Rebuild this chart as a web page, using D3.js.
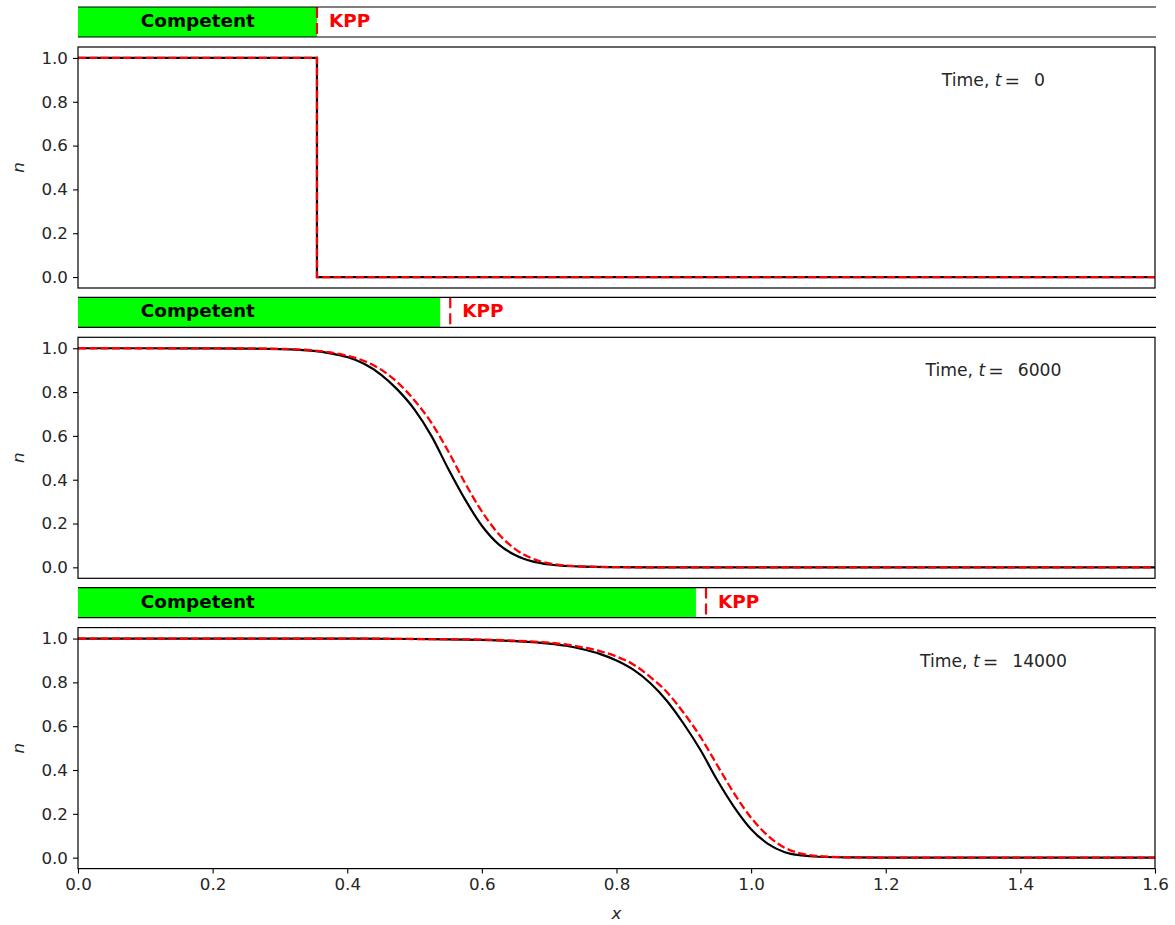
<!DOCTYPE html>
<html><head><meta charset="utf-8">
<script src="https://cdn.jsdelivr.net/npm/d3@7/dist/d3.min.js"></script>
<style>
html,body{margin:0;padding:0;background:#fff;}
svg text{font-family:"DejaVu Sans",sans-serif;}
</style></head>
<body><svg id="chart" width="1175" height="925"></svg>
<script>
// ---------- data ----------
const times = [0, 6000, 14000];
const competentFront = [0.355, 0.538, 0.918];
const kppFront = [0.355, 0.553, 0.933];

const xTicks = [0.0, 0.2, 0.4, 0.6, 0.8, 1.0, 1.2, 1.4, 1.6];
const yTicks = [0.0, 0.2, 0.4, 0.6, 0.8, 1.0];

// panel 1 (t = 0): step profile
const x0 = [0, 0.355, 0.355, 1.6];
const comp0 = [1, 1, 0, 0];
const kpp0 = [1, 1, 0, 0];

// panel 2 (t = 6000)
const x1 = [0, 0.1, 0.2, 0.3, 0.35, 0.375, 0.4, 0.425, 0.45, 0.475, 0.5, 0.525, 0.55, 0.575, 0.6, 0.625, 0.65, 0.675, 0.7, 0.75, 0.8, 0.85, 1.0, 1.2, 1.4, 1.6];
const comp1 = [1, 1, 0.9995, 0.996, 0.988, 0.977, 0.96, 0.929, 0.88, 0.81, 0.72, 0.60, 0.45, 0.31, 0.19, 0.105, 0.055, 0.027, 0.013, 0.003, 0.001, 0, 0, 0, 0, 0];
const kpp1 = [1, 1, 0.9995, 0.997, 0.99, 0.981, 0.966, 0.942, 0.903, 0.843, 0.762, 0.66, 0.53, 0.385, 0.255, 0.152, 0.082, 0.04, 0.018, 0.004, 0.001, 0, 0, 0, 0, 0];

// panel 3 (t = 14000)
const x2 = [0, 0.2, 0.4, 0.5, 0.6, 0.65, 0.7, 0.725, 0.75, 0.775, 0.8, 0.825, 0.85, 0.875, 0.9, 0.925, 0.95, 0.975, 1.0, 1.025, 1.05, 1.075, 1.1, 1.15, 1.2, 1.4, 1.6];
const comp2 = [1, 1, 1, 0.998, 0.994, 0.988, 0.977, 0.967, 0.951, 0.93, 0.9, 0.858, 0.797, 0.715, 0.61, 0.49, 0.352, 0.23, 0.13, 0.063, 0.025, 0.01, 0.004, 0.001, 0, 0, 0];
const kpp2 = [1, 1, 1, 0.998, 0.995, 0.99, 0.981, 0.973, 0.96, 0.943, 0.918, 0.882, 0.825, 0.755, 0.66, 0.55, 0.42, 0.292, 0.182, 0.1, 0.045, 0.018, 0.007, 0.001, 0, 0, 0];

const profiles = [
  {x: x0, comp: comp0, kpp: kpp0, step: true},
  {x: x1, comp: comp1, kpp: kpp1, step: false},
  {x: x2, comp: comp2, kpp: kpp2, step: false}
];

// ---------- layout ----------
const svg = d3.select("#chart");
const L = 78, R = 1155;
const groupStep = 290.3;
const barTop0 = 7, barH = 30, panelTop0 = 47, panelH = 241;
const fontTick = 16.7;

const x = d3.scaleLinear().domain([0, 1.6]).range([L, R]);

profiles.forEach((p, i) => {
  const off = i * groupStep;
  const bTop = barTop0 + off;
  const pTop = panelTop0 + off;
  const y = d3.scaleLinear().domain([-0.05, 1.05]).range([pTop + panelH, pTop]);

  // ---- front bar ----
  const bar = svg.append("g");
  bar.append("rect")
    .attr("x", x(0)).attr("y", bTop)
    .attr("width", x(competentFront[i]) - x(0)).attr("height", barH)
    .attr("fill", "#00ff00");
  bar.append("line")
    .attr("x1", x(kppFront[i])).attr("x2", x(kppFront[i]))
    .attr("y1", bTop).attr("y2", bTop + barH)
    .attr("stroke", "#ff0000").attr("stroke-width", 2.2)
    .attr("stroke-dasharray", "11,5");
  [bTop, bTop + barH].forEach(yy => {
    bar.append("line").attr("x1", L).attr("x2", R + 1).attr("y1", yy).attr("y2", yy)
      .attr("stroke", "#000").attr("stroke-width", 1.2);
  });
  bar.append("text")
    .attr("x", x(0.178)).attr("y", bTop + barH / 2 - 1.5)
    .attr("text-anchor", "middle").attr("dominant-baseline", "central")
    .attr("font-weight", "bold").attr("font-size", 18.4).attr("fill", "#000")
    .text("Competent");
  bar.append("text")
    .attr("x", x(kppFront[i]) + 12).attr("y", bTop + barH / 2 - 1.5)
    .attr("dominant-baseline", "central")
    .attr("font-weight", "bold").attr("font-size", 18.4).attr("fill", "#ff0000")
    .text("KPP");

  // ---- profile panel ----
  const g = svg.append("g");
  const clipId = "clip" + i;
  svg.append("clipPath").attr("id", clipId).append("rect")
    .attr("x", L).attr("y", pTop).attr("width", R - L).attr("height", panelH);

  const line = d3.line()
    .x(d => x(d[0])).y(d => y(d[1]))
    .curve(p.step ? d3.curveLinear : d3.curveMonotoneX);

  const compData = p.x.map((xv, k) => [xv, p.comp[k]]);
  const kppData = p.x.map((xv, k) => [xv, p.kpp[k]]);

  const lines = g.append("g").attr("clip-path", `url(#${clipId})`);
  lines.append("path").attr("d", line(compData))
    .attr("fill", "none").attr("stroke", "#000").attr("stroke-width", 2.2);
  lines.append("path").attr("d", line(kppData))
    .attr("fill", "none").attr("stroke", "#ff0000").attr("stroke-width", 2.3)
    .attr("stroke-dasharray", "8,3.3");

  // y axis
  const yAxis = d3.axisLeft(y).tickValues(yTicks).tickFormat(d3.format(".1f"))
    .tickSize(5).tickPadding(5);
  const ya = g.append("g").attr("transform", `translate(${L},0)`).call(yAxis);
  ya.select(".domain").remove();
  ya.selectAll("line").attr("stroke", "#000").attr("stroke-width", 1.1);
  ya.selectAll("text").attr("font-size", fontTick).attr("fill", "#262626")
    .attr("font-family", "DejaVu Sans");

  // x axis ticks (labels only on bottom panel)
  const xAxis = d3.axisBottom(x).tickValues(xTicks).tickFormat(d3.format(".1f"))
    .tickSize(5).tickPadding(5);
  const xa = g.append("g").attr("transform", `translate(0,${pTop + panelH})`).call(xAxis);
  xa.select(".domain").remove();
  xa.selectAll("line").attr("stroke", "#000").attr("stroke-width", 1.1);
  xa.selectAll("text").attr("font-size", fontTick).attr("fill", "#262626")
    .attr("font-family", "DejaVu Sans");
  if (i < 2) { xa.selectAll("text").remove(); xa.selectAll("line").remove(); }

  // frame
  g.append("rect").attr("x", L).attr("y", pTop).attr("width", R - L).attr("height", panelH)
    .attr("fill", "none").attr("stroke", "#000").attr("stroke-width", 1.2);

  // y label
  g.append("text")
    .attr("transform", `translate(18,${pTop + panelH / 2}) rotate(-90)`)
    .attr("text-anchor", "middle").attr("dominant-baseline", "central")
    .attr("font-size", fontTick).attr("font-style", "italic").attr("fill", "#262626")
    .text("n");

  // time label
  const tl = g.append("text")
    .attr("x", L + 0.85 * (R - L)).attr("y", pTop + 33)
    .attr("text-anchor", "middle").attr("dominant-baseline", "central")
    .attr("font-size", 17.2).attr("fill", "#262626");
  tl.append("tspan").text("Time,\u00a0");
  tl.append("tspan").attr("font-style", "italic").text("t");
  tl.append("tspan").attr("dx", 3).attr("font-size", 18.5).text("=");
  tl.append("tspan").attr("dx", 14).text(String(times[i]));
});

// x label
svg.append("text")
  .attr("x", (L + R) / 2).attr("y", 913)
  .attr("text-anchor", "middle").attr("dominant-baseline", "central")
  .attr("font-size", fontTick).attr("font-style", "italic").attr("fill", "#262626")
  .text("x");
</script>
</body></html>
